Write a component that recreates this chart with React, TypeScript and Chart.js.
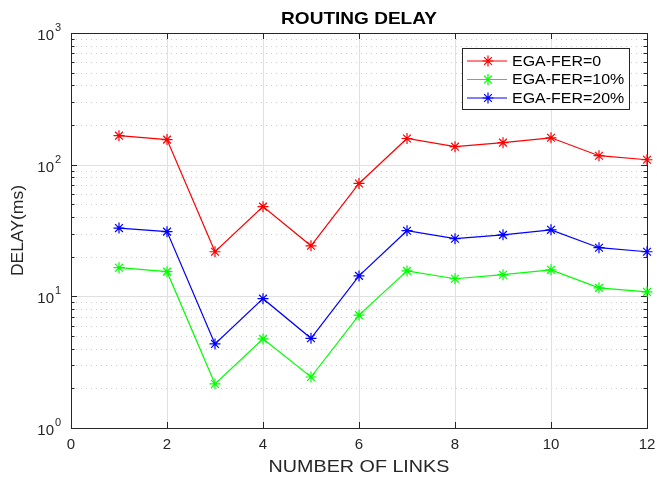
import React, { useEffect, useRef } from "react";
import { Chart, registerables } from "chart.js";

Chart.register(...registerables);

const links = [1, 2, 3, 4, 5, 6, 7, 8, 9, 10, 11, 12];
const fer0 = [166, 155, 21.8, 48, 24.2, 72, 158, 137, 147, 160, 117, 109];
const fer10 = [16.5, 15.4, 2.16, 4.75, 2.44, 7.2, 15.6, 13.6, 14.6, 15.9, 11.6, 10.8];
const fer20 = [33, 31, 4.35, 9.6, 4.8, 14.3, 31.5, 27.4, 29.3, 32, 23.4, 21.8];
const seriesNames = ["EGA-FER=0", "EGA-FER=10%", "EGA-FER=20%"];
const seriesColors = ["#ff0000", "#00ff00", "#0000ff"];
const xTicks = [0, 2, 4, 6, 8, 10, 12];
const yDecades = [0, 1, 2, 3];

const FONT = "'Liberation Sans', Arial, sans-serif";

function drawStar(ctx: CanvasRenderingContext2D, x: number, y: number, r: number, color: string) {
  ctx.save();
  ctx.strokeStyle = color;
  ctx.lineWidth = 1.2;
  ctx.beginPath();
  for (let i = 0; i < 4; i++) {
    const a = (i * Math.PI) / 4;
    ctx.moveTo(x - r * Math.cos(a), y - r * Math.sin(a));
    ctx.lineTo(x + r * Math.cos(a), y + r * Math.sin(a));
  }
  ctx.stroke();
  ctx.restore();
}

function stretchText(
  ctx: CanvasRenderingContext2D,
  text: string,
  x: number,
  y: number,
  font: string,
  align: CanvasTextAlign,
  sx: number
) {
  ctx.save();
  ctx.font = font;
  ctx.textAlign = align;
  ctx.textBaseline = "middle";
  ctx.translate(x, y);
  ctx.scale(sx, 1);
  ctx.fillText(text, 0, 0);
  ctx.restore();
}

const framePlugin = {
  id: "matlabFrame",
  beforeDatasetsDraw(chart: any) {
    const { ctx, chartArea: a, scales } = chart;
    const xs = scales.x;
    const ys = scales.y;
    ctx.save();
    ctx.strokeStyle = "#cccccc";
    ctx.lineWidth = 1;
    ctx.setLineDash([1, 4]);
    for (const d of yDecades.slice(0, 3)) {
      for (let m = 2; m <= 9; m++) {
        const py = Math.round(ys.getPixelForValue(m * Math.pow(10, d))) + 0.5;
        ctx.beginPath();
        ctx.moveTo(a.left, py);
        ctx.lineTo(a.right, py);
        ctx.stroke();
      }
    }
    ctx.setLineDash([]);
    ctx.strokeStyle = "#e0e0e0";
    for (const d of yDecades) {
      const py = Math.round(ys.getPixelForValue(Math.pow(10, d))) + 0.5;
      ctx.beginPath();
      ctx.moveTo(a.left, py);
      ctx.lineTo(a.right, py);
      ctx.stroke();
    }
    for (const t of xTicks) {
      const px = Math.round(xs.getPixelForValue(t)) + 0.5;
      ctx.beginPath();
      ctx.moveTo(px, a.top);
      ctx.lineTo(px, a.bottom);
      ctx.stroke();
    }
    ctx.restore();
  },
  afterDatasetsDraw(chart: any) {
    const { ctx, chartArea: a, scales } = chart;
    const xs = scales.x;
    const ys = scales.y;
    ctx.save();
    ctx.strokeStyle = "#262626";
    ctx.lineWidth = 1;
    ctx.strokeRect(Math.round(a.left) + 0.5, Math.round(a.top) + 0.5, Math.round(a.right - a.left), Math.round(a.bottom - a.top));
    for (const d of yDecades) {
      for (let m = 1; m <= 9; m++) {
        if (d === 3 && m > 1) break;
        const v = m * Math.pow(10, d);
        const py = Math.round(ys.getPixelForValue(v)) + 0.5;
        const len = m === 1 ? 6 : 3.5;
        ctx.beginPath();
        ctx.moveTo(a.left, py);
        ctx.lineTo(a.left + len, py);
        ctx.moveTo(a.right, py);
        ctx.lineTo(a.right - len, py);
        ctx.stroke();
      }
    }
    for (const t of xTicks) {
      const px = Math.round(xs.getPixelForValue(t)) + 0.5;
      ctx.beginPath();
      ctx.moveTo(px, a.bottom);
      ctx.lineTo(px, a.bottom - 6);
      ctx.moveTo(px, a.top);
      ctx.lineTo(px, a.top + 6);
      ctx.stroke();
    }
    ctx.fillStyle = "#262626";
    ctx.textBaseline = "top";
    ctx.textAlign = "center";
    ctx.font = `15px ${FONT}`;
    for (const t of xTicks) {
      ctx.fillText(String(t), xs.getPixelForValue(t), a.bottom + 9);
    }
    for (const d of yDecades) {
      const py = ys.getPixelForValue(Math.pow(10, d));
      ctx.font = `15px ${FONT}`;
      ctx.textAlign = "right";
      ctx.textBaseline = "middle";
      const expW = 9;
      ctx.fillText("10", a.left - 8 - expW, py + 3);
      ctx.font = `11px ${FONT}`;
      ctx.textAlign = "left";
      ctx.fillText(String(d), a.left - 8 - expW + 1, py - 5);
    }
    stretchText(ctx, "NUMBER OF LINKS", (a.left + a.right) / 2, 467, `17px ${FONT}`, "center", 1.16);
    ctx.save();
    ctx.translate(18, (a.top + a.bottom) / 2);
    ctx.rotate(-Math.PI / 2);
    stretchText(ctx, "DELAY(ms)", 0, 0, `16.5px ${FONT}`, "center", 1.06);
    ctx.restore();
    ctx.fillStyle = "#000";
    stretchText(ctx, "ROUTING DELAY", (a.left + a.right) / 2, 19, `bold 17px ${FONT}`, "center", 1.12);
    const lx = 462.5, ly = 48.5, lw = 167, lh = 61;
    ctx.fillStyle = "#fff";
    ctx.fillRect(lx, ly, lw, lh);
    ctx.strokeStyle = "#262626";
    ctx.strokeRect(lx, ly, lw, lh);
    for (let i = 0; i < seriesNames.length; i++) {
      const y = 61 + i * 18.5;
      ctx.strokeStyle = seriesColors[i];
      ctx.lineWidth = 1;
      ctx.beginPath();
      ctx.moveTo(467, y);
      ctx.lineTo(507, y);
      ctx.stroke();
      drawStar(ctx, 488, y, 5.5, seriesColors[i]);
      ctx.fillStyle = "#000";
      stretchText(ctx, seriesNames[i], 512, y + 1, `14px ${FONT}`, "left", 1.14);
    }
    ctx.restore();
  },
};

const starPlugin = {
  id: "stars",
  afterDatasetsDraw(chart: any) {
    const ctx = chart.ctx;
    chart.data.datasets.forEach((ds: any, i: number) => {
      const meta = chart.getDatasetMeta(i);
      meta.data.forEach((pt: any) => drawStar(ctx, pt.x, pt.y, 5.5, ds.borderColor));
    });
  },
};

export default function App() {
  const ref = useRef<HTMLCanvasElement | null>(null);
  useEffect(() => {
    document.body.style.margin = "0";
    const mk = (d: number[], c: string, label: string) => ({
      label,
      data: links.map((x, i) => ({ x, y: d[i] })),
      borderColor: c,
      backgroundColor: c,
      borderWidth: 1.2,
      pointRadius: 0,
      tension: 0,
    });
    const chart = new Chart(ref.current!, {
      type: "line",
      data: {
        datasets: [
          mk(fer0, seriesColors[0], seriesNames[0]),
          mk(fer10, seriesColors[1], seriesNames[1]),
          mk(fer20, seriesColors[2], seriesNames[2]),
        ],
      },
      options: {
        responsive: false,
        animation: false,
        layout: { padding: { left: 71, right: 10, top: 33, bottom: 51 } },
        plugins: { legend: { display: false }, title: { display: false }, tooltip: { enabled: false } },
        scales: {
          x: { type: "linear", min: 0, max: 12, display: false },
          y: { type: "logarithmic", min: 1, max: 1000, display: false },
        },
      },
      plugins: [framePlugin, starPlugin],
    } as any);
    return () => chart.destroy();
  }, []);
  return (
    <div style={{ width: 657, height: 479, background: "#fff" }}>
      <canvas ref={ref} width={657} height={479} />
    </div>
  );
}
